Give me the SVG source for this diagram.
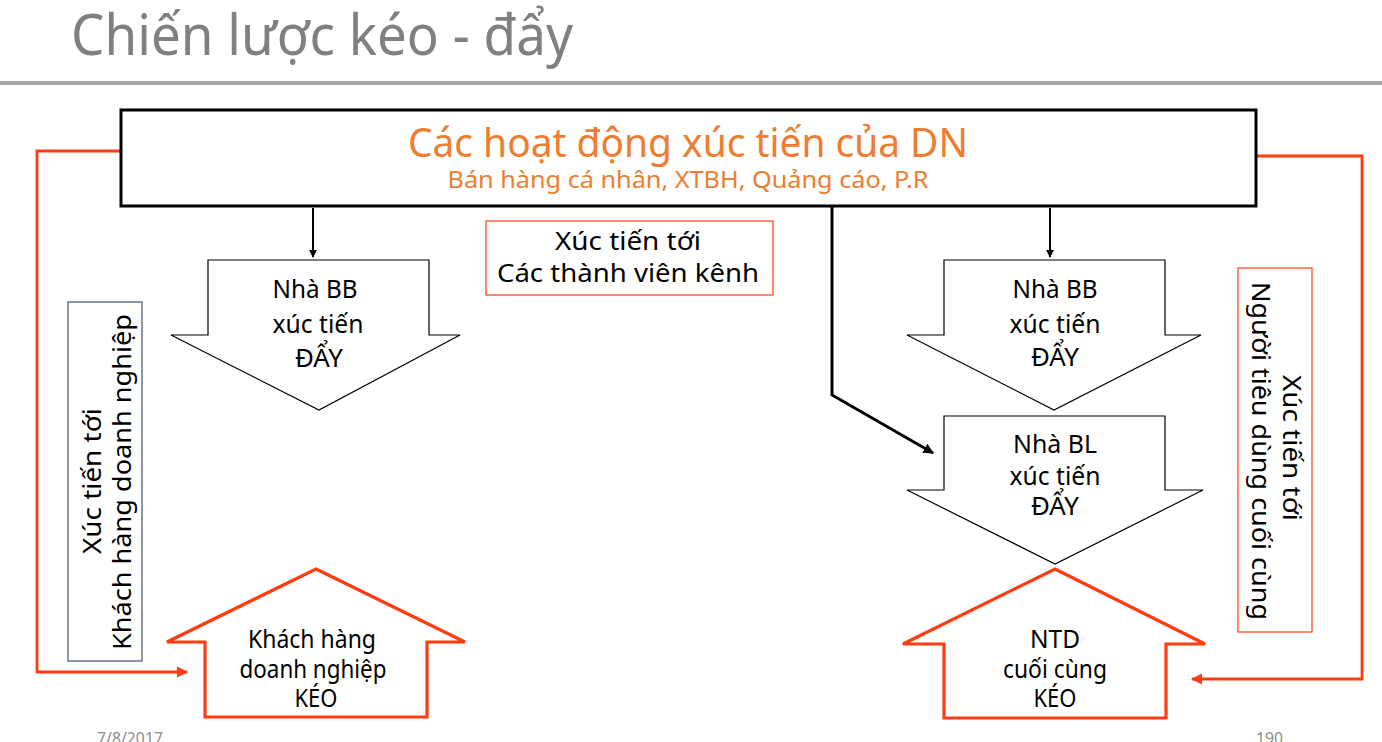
<svg xmlns="http://www.w3.org/2000/svg" width="1382" height="742" viewBox="0 0 1382 742">
<style>
text{font-family:"Noto Sans","DejaVu Sans",sans-serif;}
.t{font-size:25.5px;fill:#000;text-anchor:middle;}
.or{fill:#ED7D31;text-anchor:middle;}
.down{fill:#fff;stroke:#000;stroke-width:1.2;}
.up{fill:#fff;stroke:#FF3B0F;stroke-width:3.2;}
.bk{fill:none;stroke:#000;}
.rd{fill:none;stroke:#FF3B0F;stroke-width:2.8;}
.foot{font-size:16px;fill:#8C8C8C;}
</style>
<defs>
<marker id="ab" viewBox="0 0 10 10" refX="9" refY="5" markerWidth="4" markerHeight="4" orient="auto" markerUnits="strokeWidth"><path d="M0,0 L10,5 L0,10 z" fill="#000"/></marker>
<marker id="ar" viewBox="0 0 10 10" refX="9" refY="5" markerWidth="4" markerHeight="4" orient="auto" markerUnits="strokeWidth"><path d="M0,0 L10,5 L0,10 z" fill="#FF3B0F"/></marker>
<marker id="ab2" viewBox="0 0 10 10" refX="9" refY="5" markerWidth="3.5" markerHeight="3.5" orient="auto" markerUnits="strokeWidth"><path d="M0,0 L10,5 L0,10 z" fill="#000"/></marker>
</defs>
<rect width="1382" height="742" fill="#fff"/>
<g id="title">
<text x="71" y="55" font-size="56" fill="#808080" textLength="502" lengthAdjust="spacingAndGlyphs">Chiến lược kéo - đẩy</text>
<rect x="0" y="81" width="1382" height="4" fill="#A6A6A6"/>
</g>
<g id="connectors">
<line class="bk" x1="313" y1="208" x2="313" y2="257" stroke-width="2" marker-end="url(#ab)"/>
<line class="bk" x1="1050" y1="208" x2="1050" y2="257" stroke-width="2" marker-end="url(#ab)"/>
<polyline class="bk" points="832,206 832,395 933,453" stroke-width="3" marker-end="url(#ab2)"/>
<polyline class="rd" points="121,151 37,151 37,672 187,672" marker-end="url(#ar)"/>
<polyline class="rd" points="1256,156 1362,156 1362,679 1192,679" marker-end="url(#ar)"/>
</g>
<g id="top-box">
<rect x="121" y="110" width="1135" height="96" fill="#fff" stroke="#000" stroke-width="3"/>
<text class="or" x="688" y="157" font-size="40" textLength="560" lengthAdjust="spacingAndGlyphs">Các hoạt động xúc tiến của DN</text>
<text class="or" x="688" y="188" font-size="23" textLength="481" lengthAdjust="spacingAndGlyphs">Bán hàng cá nhân, XTBH, Quảng cáo, P.R</text>
</g>
<g id="channel-box">
<rect x="486" y="221" width="287" height="74" fill="#fff" stroke="#FF3B0F" stroke-width="1.2"/>
<text class="t" x="628" y="250" textLength="146" lengthAdjust="spacingAndGlyphs">Xúc tiến tới</text>
<text class="t" x="628" y="282" textLength="262" lengthAdjust="spacingAndGlyphs">Các thành viên kênh</text>
</g>
<g id="left-bb">
<polygon class="down" points="208,260 429,260 429,335 460,335 319,410 171,335 208,335"/>
<text class="t" x="315" y="298" textLength="85" lengthAdjust="spacingAndGlyphs">Nhà BB</text>
<text class="t" x="318" y="333" textLength="91" lengthAdjust="spacingAndGlyphs">xúc tiến</text>
<text class="t" x="319" y="367" textLength="48" lengthAdjust="spacingAndGlyphs">ĐẨY</text>
</g>
<g id="right-bb">
<polygon class="down" points="944,260 1165,260 1165,335 1201,335 1054,410 907,335 944,335"/>
<text class="t" x="1055" y="298" textLength="85" lengthAdjust="spacingAndGlyphs">Nhà BB</text>
<text class="t" x="1055" y="333" textLength="91" lengthAdjust="spacingAndGlyphs">xúc tiến</text>
<text class="t" x="1055" y="366" textLength="48" lengthAdjust="spacingAndGlyphs">ĐẨY</text>
</g>
<g id="right-bl">
<polygon class="down" points="944,416 1165,416 1165,490 1203,490 1055,564 907,490 944,490"/>
<text class="t" x="1055" y="453" textLength="84" lengthAdjust="spacingAndGlyphs">Nhà BL</text>
<text class="t" x="1055" y="485" textLength="91" lengthAdjust="spacingAndGlyphs">xúc tiến</text>
<text class="t" x="1055" y="515" textLength="48" lengthAdjust="spacingAndGlyphs">ĐẨY</text>
</g>
<g id="left-pull">
<polygon class="up" points="316,569 465,642 427,642 427,717 205,717 205,642 167,642"/>
<text class="t" x="312" y="648" textLength="128" lengthAdjust="spacingAndGlyphs">Khách hàng</text>
<text class="t" x="313" y="678" textLength="147" lengthAdjust="spacingAndGlyphs">doanh nghiệp</text>
<text class="t" x="316" y="707" textLength="43" lengthAdjust="spacingAndGlyphs">KÉO</text>
</g>
<g id="right-pull">
<polygon class="up" points="1055,569 1205,644 1166,644 1166,718 944,718 944,644 903,644"/>
<text class="t" x="1055" y="648" textLength="50" lengthAdjust="spacingAndGlyphs">NTD</text>
<text class="t" x="1055" y="678" textLength="104" lengthAdjust="spacingAndGlyphs">cuối cùng</text>
<text class="t" x="1055" y="707" textLength="43" lengthAdjust="spacingAndGlyphs">KÉO</text>
</g>
<g id="left-label">
<rect x="68" y="302" width="74" height="359" fill="#fff" stroke="#44546A" stroke-width="1.2"/>
<text class="t" transform="translate(101,481) rotate(-90)" font-size="27" textLength="146" lengthAdjust="spacingAndGlyphs">Xúc tiến tới</text>
<text class="t" transform="translate(131,482) rotate(-90)" font-size="27" textLength="336" lengthAdjust="spacingAndGlyphs">Khách hàng doanh nghiệp</text>
</g>
<g id="right-label">
<rect x="1238" y="268" width="74" height="364" fill="#fff" stroke="#FF3B0F" stroke-width="1.2"/>
<text class="t" transform="translate(1283,448) rotate(90)" font-size="27" textLength="146" lengthAdjust="spacingAndGlyphs">Xúc tiến tới</text>
<text class="t" transform="translate(1252,451) rotate(90)" font-size="27" textLength="338" lengthAdjust="spacingAndGlyphs">Người tiêu dùng cuối cùng</text>
</g>
<g id="footer">
<text class="foot" x="97" y="744" textLength="66" lengthAdjust="spacingAndGlyphs">7/8/2017</text>
<text class="foot" x="1256" y="744" textLength="27" lengthAdjust="spacingAndGlyphs">190</text>
</g>
</svg>
